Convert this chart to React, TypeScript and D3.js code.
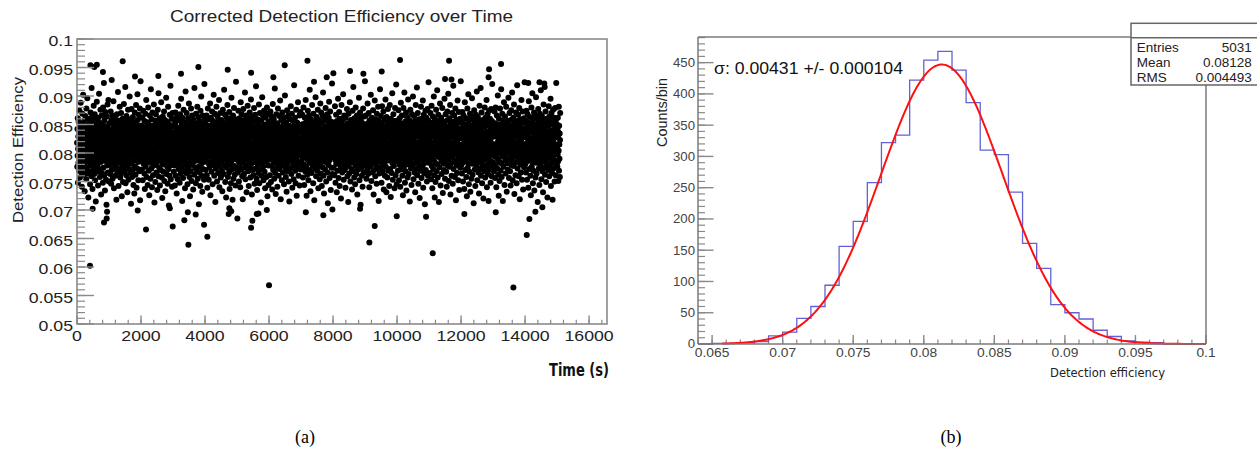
import React from "react";
import * as d3 from "d3";

// ---------- Panel (a): detection efficiency vs time (values in units of 1e-4) ----------
const EFF_0K = [818,776,842,795,861,748,807,829,783,855,812,769,836,801,874,790,823,757,846,813,779,888,804,832,766,851,797,819,741,838,786,869,809,824,773,902,815,848,792,762,831,806,857,781,733,827,799,865,816,771,843,789,821,754,878,803,835,775,812,896,787,826,764,849,808,722,839,794,817,860,768,828,784,852,811,745,833,798,871,820,778,845,805,759,914,823,791,863,814,737,837,782,854,800,770,826,883,809,846,763,819,793,868,831,752,806,841,785,715,858,812,776,834,799,890,822,767,849,803,780,827,743,862,816,795,840,772,904,810,853,788,825,758,836,801,876,818,784,844,727,813,797,866,829,765,851,807,789,832,748,880,815,774,842,802,923,821,761,857,796,838,734,811,872,786,830,804,753,847,819,709,864,792,835,778,808,885,824,766,843,799,893,817,750,839];
const EFF_1K = [806,831,779,852,794,817,763,840,801,873,787,824,746,858,812,770,835,798,866,820,755,843,809,782,829,891,796,814,738,849,773,826,805,862,789,837,760,819,800,854,776,831,718,845,792,868,811,767,822,784,839,907,803,857,742,816,793,833,771,848,808,881,786,825,757,841,799,818,764,870,813,830,780,724,851,804,836,791,860,815,749,844,797,823,775,886,810,838,768,855,802,827,785,916,819,747,846,794,832,761,865,807,821,778,850,731,812,840,789,876,817,753,834,800,859,772,828,806,899,783,843,814,766,822,795,853,711,837,808,877,781,826,758,847,803,819,770,863,792,831,744,812,856,787,835,729,817,801,871,776,842,810,762,829,796,884,805,850,739,824,790,838,773,903,815,858,784,827,752,845,799,867,809,821,768,840,793,878,717,833,811,926,786,848];
const EFF_2K = [823,789,848,806,771,835,812,862,795,752,829,801,874,818,781,843,797,827,764,856,809,737,837,790,869,814,776,846,803,893,821,758,832,798,854,785,817,744,841,808,880,792,826,769,850,811,726,838,800,866,783,822,755,845,806,912,794,830,773,859,815,740,834,787,871,810,827,761,848,799,819,778,885,804,840,713,825,791,857,813,749,836,802,868,782,829,766,851,816,797,843,735,820,808,876,788,832,759,905,812,847,775,824,796,861,809,743,839,786,818,770,853,805,889,793,828,757,844,816,721,834,800,864,780,826,811,767,849,798,873,814,751,837,791,858,807,733,822,784,842,803,897,817,763,830,795,855,776,819,746,846,809,881,789,833,772,708,851,812,826,760,867,801,838,785,918,823,754,845,797,831,779,860,808,741,836,815,870,792,827];
const EFF_3K = [811,847,786,824,767,859,802,833,778,815,743,852,797,871,820,760,838,806,789,845,729,826,813,864,781,835,754,817,799,883,841,772,822,805,857,790,830,748,810,868,784,844,763,827,801,895,818,775,849,794,836,716,812,862,787,829,756,846,804,876,821,769,839,798,854,782,815,738,832,808,908,791,843,765,826,811,870,777,850,800,819,745,837,795,861,814,773,828,806,887,783,846,758,823,809,724,855,792,834,768,816,878,803,840,751,827,788,866,812,779,848,797,831,736,820,805,858,785,843,762,914,817,799,836,774,852,808,824,747,869,793,829,813,770,845,801,881,787,838,755,821,807,863,776,833,710,849,796,818,766,856,810,827,742,874,790,839,803,899,781,825,760,846,814,732,835,798,866,772,819,806,852,784,841,753,829,921,812,795,860];
const EFF_4K = [799,836,814,770,851,788,825,806,866,761,843,817,739,832,793,878,810,847,782,820,753,859,803,829,775,841,796,887,815,726,838,808,862,784,824,767,849,801,873,791,833,745,818,856,779,840,812,902,797,827,760,846,805,869,787,831,714,822,852,773,837,809,881,794,819,750,844,800,864,781,828,765,857,813,835,790,893,806,740,848,776,823,811,870,798,839,757,826,802,858,785,845,769,817,733,834,807,876,792,829,812,763,853,796,911,820,778,842,804,867,749,831,815,788,850,722,826,799,862,774,838,808,884,783,845,758,821,803,855,790,833,766,872,811,737,840,795,825,780,861,816,747,847,800,897,786,830,771,853,809,718,836,794,866,819,755,843,805,879,777,827,813,762,851,797,834,743,859,807,925,789,822,772,846,801];
const EFF_5K = [827,793,851,808,766,839,815,874,785,822,750,846,801,861,779,831,812,740,855,796,889,820,771,837,806,868,788,843,759,825,810,719,849,797,877,816,783,834,763,858,803,829,774,906,812,842,754,823,800,866,790,838,731,817,852,778,833,807,883,795,826,768,847,811,742,861,786,821,804,871,776,840,815,757,830,799,894,818,781,853,805,727,836,792,864,813,770,845,802,828,761,856,809,879,784,832,746,820,797,867,814,773,841,806,917,790,825,755,848,812,735,837,800,859,780,829,816,765,852,794,885,819,747,834,808,870,787,843,771,823,801,713,857,796,831,760,846,811,898,782,827,804,866,776,839,752,818,807,874,791,835,767,850,813,738,826,799,862,785,842,810,758,830,803,880,794,848,724,821,815,869,778,837,744,855,808];
const EFF_6K = [804,842,788,826,761,855,812,873,795,833,749,818,801,864,777,847,809,736,829,792,886,815,770,838,806,859,783,824,755,850,797,913,821,765,843,810,728,835,789,868,803,827,774,852,816,741,839,798,878,782,822,807,760,846,793,865,813,772,831,800,892,787,844,719,825,811,857,779,836,752,818,804,871,794,840,766,829,809,849,785,823,745,862,797,834,813,901,775,846,801,827,758,853,790,837,732,816,806,875,781,843,768,820,811,866,796,831,750,848,803,715,838,786,859,814,773,826,799,882,808,842,763,822,792,869,817,739,835,805,856,778,830,812,754,847,794,919,824,784,840,800,862,769,833,747,818,809,876,789,845,725,828,813,853,776,836,802,889,795,821,760,850,807,838,782,866,743,826,815,797,872,771,844,806];
const EFF_7K = [819,785,846,803,772,834,810,867,792,828,757,851,806,880,780,840,813,744,825,799,862,816,768,843,795,893,821,776,836,808,725,857,789,831,762,848,814,874,801,826,752,839,797,866,783,822,809,911,770,845,804,733,832,816,859,791,827,765,852,800,884,812,778,837,796,823,747,869,807,842,786,818,717,855,801,830,773,847,813,898,794,835,759,826,808,863,782,841,769,820,805,876,790,833,738,850,815,799,858,777,829,811,754,844,793,887,817,764,838,802,871,784,824,742,853,809,832,775,866,797,906,819,760,840,806,729,828,812,860,788,846,771,835,801,879,794,822,750,857,815,783,843,807,868,766,831,712,849,798,825,779,862,810,890,787,837,756,819,804,873,792,844,735,827,813,855,774,839,800,922,818,763,851,808,830];
const EFF_8K = [797,839,816,774,853,805,829,761,846,811,882,788,835,748,822,800,867,781,843,812,731,856,794,826,769,849,808,895,784,832,756,817,803,872,790,838,742,860,814,778,845,799,821,720,851,806,884,773,834,810,766,857,796,828,812,903,782,841,753,819,805,866,789,836,770,848,801,825,739,862,815,792,844,776,831,808,877,785,823,759,852,798,837,714,816,869,780,842,811,764,829,803,889,795,846,750,820,807,858,787,833,772,850,813,736,826,800,874,783,839,809,916,768,844,797,822,757,861,815,790,835,745,853,804,880,777,827,812,763,847,793,866,818,727,838,801,856,786,831,771,849,806,897,782,824,752,840,814,871,795,828,709,845,799,862,774,836,810,760,853,789,832,741,819,807,878,785,843,766,825,813,864,796,838,779,926];
const EFF_9K = [813,778,845,801,866,790,828,755,851,809,836,771,819,887,797,842,763,825,806,870,784,834,740,857,815,793,848,776,823,811,902,788,839,751,829,803,862,781,846,766,818,808,875,794,837,727,853,812,770,831,799,892,786,843,759,826,810,859,779,840,804,746,869,792,822,815,773,849,800,881,785,833,716,856,807,827,764,844,796,912,818,774,838,805,865,789,830,748,851,811,882,780,824,802,768,847,793,873,816,736,835,808,858,783,841,760,821,798,894,812,776,846,805,731,863,790,828,817,757,852,801,877,787,837,769,819,809,855,742,843,796,884,814,772,830,804,723,860,791,825,812,765,849,799,905,782,839,753,822,807,868,794,834,777,846,815,738,856,801,879,788,827,761,842,810,920,796,832,745,853];
const EFF_10K = [808,846,785,823,769,857,814,875,796,834,752,843,805,861,779,829,817,741,852,792,888,812,771,839,801,866,787,826,760,848,809,726,836,795,879,820,775,844,803,906,783,831,748,855,816,768,840,798,871,810,734,827,789,863,806,821,757,849,813,894,780,837,763,825,800,858,791,842,715,818,807,876,786,833,773,851,811,744,829,797,868,815,777,846,802,899,793,838,754,822,809,865,782,840,766,856,804,731,828,816,884,790,835,772,848,799,915,812,761,843,806,870,784,830,746,819,810,859,778,837,801,721,852,794,826,769,845,813,881,788,833,756,860,807,822,775,850,797,892,815,739,839,803,867,781,828,764,854,811,710,836,792,874,818,770,845,800,862,786,831,750,824,809,877,795,841,760,857,814,924,783,832];
const EFF_11K = [822,786,849,804,765,837,812,870,791,828,754,853,800,883,777,842,815,738,831,796,864,810,772,846,788,899,819,761,835,806,722,859,783,826,749,851,813,876,798,840,768,823,808,910,780,844,757,829,802,867,793,836,714,817,856,775,833,810,887,795,825,743,848,805,862,786,838,763,820,812,879,799,843,730,827,807,855,781,834,770,850,816,895,790,822,755,845,801,868,784,839,767,826,811,741,857,796,873,814,778,832,803,904,789,847,751,821,809,861,776,836,798,884,817,727,842,805,853,782,829,760,848,812,870,793,834,746,855,800,918,818,772,840,806,866,787,825,758,851,814,878,797,831,717,845,803,858,779,837,765,822,810,892,784,843,752,828,808,872,791,836,735,853,815,799,860,774,841,805,926,788];
const EFF_12K = [803,841,779,826,764,854,813,872,792,835,750,847,808,866,784,830,818,737,851,797,889,815,770,843,801,861,787,824,758,849,810,724,838,794,878,822,774,845,805,903,782,833,745,856,817,767,841,799,869,809,732,828,790,864,806,820,755,848,814,896,781,836,762,827,802,859,793,844,712,819,807,875,786,832,771,852,811,742,829,796,867,816,776,846,804,908,790,839,752,823,810,863,783,842,766,857,801,729,827,815,883,789,834,773,849,798,914,812,760,843,806,871,785,831,747,820,809,858,778,836,802,720,853,795,826,768,846,814,880,788,832,757,862,807,823,774,851,796,893,816,740,838,804,868,780,829,763,855,812,716,837,791,874,819,771,847,800,860,785,833,748,825,808,877,797,842,759,856,813,921,784,830,776,848];
const EFF_13K = [816,782,847,805,768,839,811,873,794,829,756,852,802,880,779,843,814,740,833,798,866,812,773,845,790,901,820,762,836,807,725,860,785,828,751,850,815,878,800,841,769,824,809,912,782,845,758,830,803,869,794,837,716,819,857,776,834,811,889,796,826,744,849,806,864,787,839,764,821,813,881,800,844,732,828,808,856,782,835,771,851,817,897,791,823,756,846,802,870,785,840,768,827,812,743,858,797,875,815,779,833,804,906,790,848,752,822,810,862,777,837,799,885,818,728,843,806,854,783,830,761,849,813,871,794,835,747,856,801,919,819,773,841,807,867,788,826,759,852,815,879,798,832,719,846,804,859,780,838,766,823,811,893,785,844,753,829,809,873,792,837,736,854,816,800,861,775,842,806,924,789,831];
const EFF_14K = [809,844,781,827,766,856,815,874,795,836,753,849,804,868,786,832,820,739,853,799,891,817,772,845,803,863,789,826,760,851,812,726,840,796,880,824,776,847,807,905,784,835,747,858,819,769,843,801,871,811,734,830,792,866,808,822,757,850,816,898,783,838,764,829,804,861,795,846,714,821,809,877,788,834,773,854,813,744,831,798,869,818,778,848,806,910,792,841,754,825,812,865,785,844,768,859,803,731,829,817,885,791,836,775,851,800,916,814,762,845,808,873,787,833,749,822,811,860,780,838,804,722,855,797,828,770,848,816,882,790,834,759,864,809,825,776,853,798,895,818,742,840,806,870,782,831,765,857,814,718,839,793,876,821,773,849,802,862,787,835,750,827,810,879,799,844,761,858,815,923,786,832,778,850];
const EFF_15K = [812,776,843,797,862,785,827,751,836,804,881,769,848,815,790,834,758,823,870];

const SEGMENT_STARTS = [0,1000,2000,3000,4000,5000,6000,7000,8000,9000,10000,11000,12000,13000,14000,15000];
const SEGMENT_LENGTHS = [1000,1000,1000,1000,1000,1000,1000,1000,1000,1000,1000,1000,1000,1000,1000,100];
const SEGMENT_VALUES = [EFF_0K,EFF_1K,EFF_2K,EFF_3K,EFF_4K,EFF_5K,EFF_6K,EFF_7K,EFF_8K,EFF_9K,EFF_10K,EFF_11K,EFF_12K,EFF_13K,EFF_14K,EFF_15K];

// isolated points read individually (time in s, efficiency)
const OUTLIER_T = [406,490,844,928,940,1896,2156,2900,2990,3354,3463,3480,3709,3970,4072,4740,4760,4820,5010,5440,5480,5615,5667,5930,6000,7150,7697,7980,8844,9135,9302,9990,10906,11115,12103,13084,13635,14052,14135,14322,14540,
  420,541,620,810,1084,1427,1812,2541,3250,3792,4709,5440,6135,6490,7200,7406,7802,8010,8531,8948,9521,10094,11500,11625,11700,12860,12875,13250,14100,14450,14600];
const OUTLIER_E = [0.0602,0.0702,0.0678,0.0685,0.0697,0.0699,0.0666,0.0703,0.0671,0.0682,0.0696,0.0639,0.0692,0.0674,0.0653,0.0693,0.0703,0.0698,0.0685,0.0669,0.0681,0.0693,0.0694,0.0700,0.0568,0.0696,0.0691,0.0701,0.0702,0.0643,0.0672,0.0689,0.0688,0.0624,0.0693,0.0696,0.0564,0.0656,0.0684,0.0697,0.0705,
  0.0954,0.0951,0.0955,0.0942,0.0928,0.0961,0.0934,0.0935,0.0939,0.0951,0.0946,0.0941,0.0933,0.0954,0.0962,0.0925,0.0933,0.0940,0.0944,0.0939,0.0943,0.0963,0.0930,0.0962,0.0929,0.0933,0.0947,0.0956,0.0923,0.0924,0.0922];

const A_Y_TICKS = [0.05,0.055,0.06,0.065,0.07,0.075,0.08,0.085,0.09,0.095,0.1];
const A_Y_LABELS = ["0.05","0.055","0.06","0.065","0.07","0.075","0.08","0.085","0.09","0.095","0.1"];
const A_X_TICKS = [0,2000,4000,6000,8000,10000,12000,14000,16000];
const A_X_LABELS = ["0","2000","4000","6000","8000","10000","12000","14000","16000"];

// ---------- Panel (b): histogram of detection efficiency ----------
const BIN_LOW = [0.064,0.065,0.066,0.067,0.068,0.069,0.070,0.071,0.072,0.073,0.074,0.075,0.076,0.077,0.078,0.079,0.080,0.081,0.082,0.083,0.084,0.085,0.086,0.087,0.088,0.089,0.090,0.091,0.092,0.093,0.094,0.095,0.096,0.097,0.098,0.099];
const BIN_COUNTS = [0,1,1,2,4,13,19,41,60,94,156,196,258,322,334,422,454,468,438,386,310,303,243,161,121,63,50,40,22,12,5,3,2,0,0,0];
const BIN_WIDTH = 0.001;
const FIT_CONSTANT = 447;
const FIT_MEAN = 0.08128;
const FIT_SIGMA = 0.00431;
const FIT_RANGE = [0.0657, 0.1];
const B_X_TICKS = [0.065,0.07,0.075,0.08,0.085,0.09,0.095,0.1];
const B_X_LABELS = ["0.065","0.07","0.075","0.08","0.085","0.09","0.095","0.1"];
const B_Y_TICKS = [0,50,100,150,200,250,300,350,400,450];
const STAT_NAMES = ["Entries","Mean","RMS"];
const STAT_VALUES = ["5031","0.08128","0.004493"];
const SIGMA_TEXT = "σ: 0.00431 +/- 0.000104";

const SANS = "'Liberation Sans', Arial, Helvetica, sans-serif";

function Txt(props: any) {
  const { x, y, size, anchor = "start", sx = 1, fill = "#222", family = SANS, weight = "normal", rotate = 0, len, children } = props;
  return (
    <text
      transform={`translate(${x},${y}) rotate(${rotate}) scale(${sx},1)`}
      fontSize={size}
      textAnchor={anchor}
      fontFamily={family}
      fontWeight={weight}
      fill={fill}
      textLength={len}
      lengthAdjust={len ? "spacingAndGlyphs" : undefined}
    >
      {children}
    </text>
  );
}

export default function App() {
  // Panel (a) scales
  const xA = d3.scaleLinear().domain([0, 16560]).range([77, 607]);
  const yA = d3.scaleLinear().domain([0.05, 0.1]).range([324, 39]);
  const points: { t: number; e: number }[] = [];
  SEGMENT_VALUES.forEach((vals, s) => {
    vals.forEach((v, j) => {
      points.push({ t: SEGMENT_STARTS[s] + ((j + 0.5) * SEGMENT_LENGTHS[s]) / vals.length, e: v / 10000 });
    });
  });
  OUTLIER_T.forEach((t, i) => points.push({ t, e: OUTLIER_E[i] }));

  const aYMinor = d3.range(0.05, 0.1001, 0.001);
  const aXMinor = d3.range(0, 16561, 400);

  // Panel (b) scales
  const xB = d3.scaleLinear().domain([0.064, 0.1]).range([698, 1206]);
  const yB = d3.scaleLinear().domain([0, 491]).range([344, 37]);
  let histPath = `M${xB(BIN_LOW[0])},${yB(0)}`;
  BIN_LOW.forEach((lo, i) => {
    histPath += `L${xB(lo)},${yB(BIN_COUNTS[i])}L${xB(lo + BIN_WIDTH)},${yB(BIN_COUNTS[i])}`;
  });
  histPath += `L${xB(0.1)},${yB(0)}`;
  const fitXs = d3.range(FIT_RANGE[0], FIT_RANGE[1] + 1e-9, 0.0001);
  const fitLine = d3
    .line<number>()
    .x((v) => xB(v))
    .y((v) => yB(FIT_CONSTANT * Math.exp(-0.5 * ((v - FIT_MEAN) / FIT_SIGMA) ** 2)))(fitXs);
  const bXMinor = d3.range(0.064, 0.1001, 0.001);
  const bYMinor = d3.range(0, 491, 10);

  const axisGray = "#8a8a8a";
  const frameGray = "#7a7a7a";

  return (
    <svg width={1257} height={455} style={{ position: "absolute", left: 0, top: 0, background: "#fff" }}>
      <rect x={0} y={0} width={1257} height={455} fill="#fff" />
      {/* ===== Panel (a) ===== */}
      <Txt x={341.5} y={21.7} size={16} anchor="middle" len={343} fill="#222">Corrected Detection Efficiency over Time</Txt>
      {points.map((p, i) => (
        <circle key={i} cx={xA(p.t)} cy={yA(p.e)} r={3} fill="#000" />
      ))}
      <rect x={77} y={39} width={530} height={285} fill="none" stroke={axisGray} strokeWidth={1.6} />
      {aYMinor.map((v, i) => (
        <line key={"aym" + i} x1={77} x2={85} y1={yA(v)} y2={yA(v)} stroke={axisGray} strokeWidth={1.2} />
      ))}
      {A_Y_TICKS.map((v, i) => (
        <line key={"ay" + i} x1={77} x2={94} y1={yA(v)} y2={yA(v)} stroke={axisGray} strokeWidth={1.4} />
      ))}
      {aXMinor.map((v, i) => (
        <line key={"axm" + i} x1={xA(v)} x2={xA(v)} y1={324} y2={319.7} stroke={axisGray} strokeWidth={1.2} />
      ))}
      {A_X_TICKS.map((v, i) => (
        <line key={"ax" + i} x1={xA(v)} x2={xA(v)} y1={324} y2={315.5} stroke={axisGray} strokeWidth={1.4} />
      ))}
      {A_Y_TICKS.map((v, i) => (
        <Txt key={"ayl" + i} x={73} y={yA(v) + 7.4} size={15} sx={1.18} anchor="end" fill="#222">{A_Y_LABELS[i]}</Txt>
      ))}
      {A_X_TICKS.map((v, i) => (
        <Txt key={"axl" + i} x={xA(v)} y={341} size={15} sx={1.18} anchor="middle" fill="#222">{A_X_LABELS[i]}</Txt>
      ))}
      <Txt x={23} y={150} size={15} rotate={-90} anchor="middle" len={146} fill="#222">Detection Efficiency</Txt>
      <Txt x={609} y={376} size={18} anchor="end" weight="bold" len={60} family="'Liberation Sans Narrow', 'DejaVu Sans Condensed', 'Liberation Sans', sans-serif" fill="#111">Time (s)</Txt>

      {/* ===== Panel (b) ===== */}
      {bYMinor.map((v, i) => (
        <line key={"bym" + i} x1={698} x2={705} y1={yB(v)} y2={yB(v)} stroke={axisGray} strokeWidth={1.2} />
      ))}
      {B_Y_TICKS.map((v, i) => (
        <line key={"by" + i} x1={698} x2={713.5} y1={yB(v)} y2={yB(v)} stroke={axisGray} strokeWidth={1.4} />
      ))}
      {bXMinor.map((v, i) => (
        <line key={"bxm" + i} x1={xB(v)} x2={xB(v)} y1={344} y2={339.5} stroke={axisGray} strokeWidth={1.2} />
      ))}
      {B_X_TICKS.map((v, i) => (
        <line key={"bx" + i} x1={xB(v)} x2={xB(v)} y1={344} y2={335} stroke={axisGray} strokeWidth={1.4} />
      ))}
      <path d={histPath} fill="none" stroke="#6262d8" strokeWidth={1.3} />
      <path d={fitLine || ""} fill="none" stroke="#ff1010" strokeWidth={2} />
      <line x1={698} x2={698} y1={37} y2={344} stroke={frameGray} strokeWidth={1.5} />
      <line x1={698} x2={1206} y1={344} y2={344} stroke={frameGray} strokeWidth={1.5} />
      <line x1={698} x2={1131} y1={37} y2={37} stroke={frameGray} strokeWidth={1.5} />
      <line x1={1206} x2={1206} y1={85} y2={344} stroke={frameGray} strokeWidth={1.5} />
      {B_Y_TICKS.map((v, i) => (
        <Txt key={"byl" + i} x={695} y={yB(v) + 4.4} size={12} sx={1.1} anchor="end" fill="#444">{String(v)}</Txt>
      ))}
      {B_X_TICKS.map((v, i) => (
        <Txt key={"bxl" + i} x={xB(v)} y={356.7} size={12} sx={1.15} anchor="middle" fill="#444">{B_X_LABELS[i]}</Txt>
      ))}
      <Txt x={667} y={112.5} size={14} rotate={-90} anchor="middle" len={69} fill="#222">Counts/bin</Txt>
      <Txt x={1107.5} y={376.5} size={12} anchor="middle" len={115} family="'DejaVu Sans', sans-serif" fill="#222">Detection efficiency</Txt>
      <Txt x={714} y={73.5} size={17} len={189} fill="#111">{SIGMA_TEXT}</Txt>
      {/* stats box */}
      <rect x={1131} y={23.3} width={140} height={61.7} fill="#fff" stroke="#666" strokeWidth={1.5} />
      <line x1={1131} x2={1257} y1={37.7} y2={37.7} stroke="#666" strokeWidth={1.5} />
      {STAT_NAMES.map((n, i) => (
        <Txt key={"sn" + i} x={1136.7} y={51.7 + i * 15} size={13.5} fill="#222">{n}</Txt>
      ))}
      {STAT_VALUES.map((v, i) => (
        <Txt key={"sv" + i} x={1251.7} y={51.7 + i * 15} size={13.5} anchor="end" fill="#222">{v}</Txt>
      ))}

      {/* captions */}
      <text x={305} y={443} fontSize={18} textAnchor="middle" fontFamily="'Liberation Serif', 'Times New Roman', serif" fill="#000">(a)</text>
      <text x={951} y={443} fontSize={18} textAnchor="middle" fontFamily="'Liberation Serif', 'Times New Roman', serif" fill="#000">(b)</text>
    </svg>
  );
}
